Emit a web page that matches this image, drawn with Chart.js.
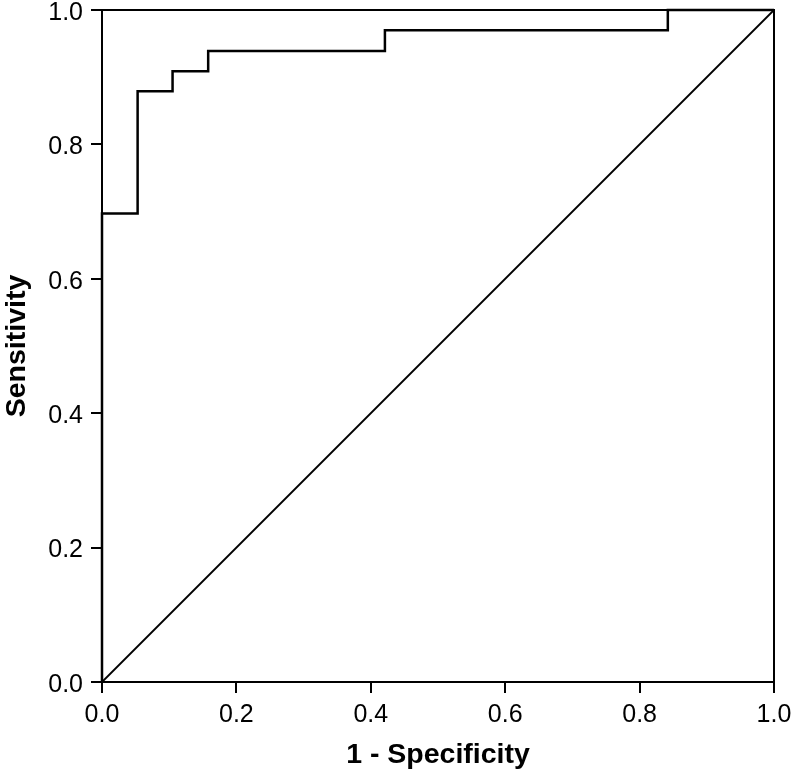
<!DOCTYPE html>
<html>
<head>
<meta charset="utf-8">
<script src="https://cdn.jsdelivr.net/npm/chart.js@4"></script>
<style>
  html, body { margin: 0; padding: 0; background: #fff; }
  #wrap { width: 792px; height: 774px; }
</style>
</head>
<body>
<div id="wrap"><canvas id="roc" width="792" height="774"></canvas></div>
<script>
// ROC curve points (1 - specificity, sensitivity)
let fpr = [0, 0, 0.053, 0.105, 0.158, 0.421, 0.842, 1.0];
let tpr = [0, 0.697, 0.879, 0.909, 0.939, 0.970, 1.0, 1.0];
// reference line
let refX = [0, 1];
let refY = [0, 1];
let tickValues = [0, 0.2, 0.4, 0.6, 0.8, 1.0];

function toPoints(xs, ys) {
    return xs.map((x, i) => ({ x: x, y: ys[i] }));
}

// draws the top and right edges of the box around the plot
const frame = {
    id: 'frame',
    afterDraw(chart) {
        let a = chart.chartArea;
        let ctx = chart.ctx;
        ctx.save();
        ctx.strokeStyle = '#000';
        ctx.lineWidth = 2;
        ctx.beginPath();
        ctx.moveTo(a.left, a.top);
        ctx.lineTo(a.right, a.top);
        ctx.lineTo(a.right, a.bottom);
        ctx.stroke();
        ctx.restore();
    }
};

let axisFont = { family: 'Liberation Sans, Arial, sans-serif', size: 25, lineHeight: 1 };
let titleFont = { family: 'Liberation Sans, Arial, sans-serif', size: 28.5, weight: 'bold' };

let ctx = document.getElementById('roc').getContext('2d');
let chart = new Chart(ctx, {
    type: 'line',
    data: {
        datasets: [{
            data: toPoints(fpr, tpr),
            stepped: 'before',
            borderColor: '#000',
            borderWidth: 2.5,
            pointRadius: 0,
            fill: false,
            clip: false
        }, {
            data: toPoints(refX, refY),
            borderColor: '#000',
            borderWidth: 1.8,
            pointRadius: 0,
            fill: false,
            clip: false
        }]
    },
    options: {
        responsive: false,
        animation: false,
        layout: { padding: 0 },
        plugins: { legend: { display: false }, tooltip: { enabled: false } },
        scales: {
            x: {
                type: 'linear',
                min: 0,
                max: 1,
                afterBuildTicks: (s) => { s.ticks = tickValues.map(v => ({ value: v })); },
                afterFit: (s) => { s.height = 92; s.paddingLeft = 0; s.paddingRight = 18; },
                ticks: {
                    color: '#000',
                    font: axisFont,
                    padding: 10,
                    maxRotation: 0,
                    callback: (v) => Number(v).toFixed(1)
                },
                grid: { drawOnChartArea: false, drawTicks: true, tickLength: 11, color: '#000', lineWidth: 2 },
                border: { display: true, color: '#000', width: 2 },
                title: { display: true, text: '1 - Specificity', color: '#000', font: titleFont, padding: { top: 8, bottom: 2 } }
            },
            y: {
                type: 'linear',
                min: 0,
                max: 1,
                afterBuildTicks: (s) => { s.ticks = tickValues.map(v => ({ value: v })); },
                afterFit: (s) => { s.width = 102; s.paddingTop = 10; s.paddingBottom = 0; },
                ticks: {
                    color: '#000',
                    font: axisFont,
                    padding: 8,
                    labelOffset: 3,
                    callback: (v) => Number(v).toFixed(1)
                },
                grid: { drawOnChartArea: false, drawTicks: true, tickLength: 11, color: '#000', lineWidth: 2 },
                border: { display: true, color: '#000', width: 2 },
                title: { display: true, text: 'Sensitivity', color: '#000', font: titleFont, padding: 0 }
            }
        }
    },
    plugins: [frame]
});
</script>
</body>
</html>
